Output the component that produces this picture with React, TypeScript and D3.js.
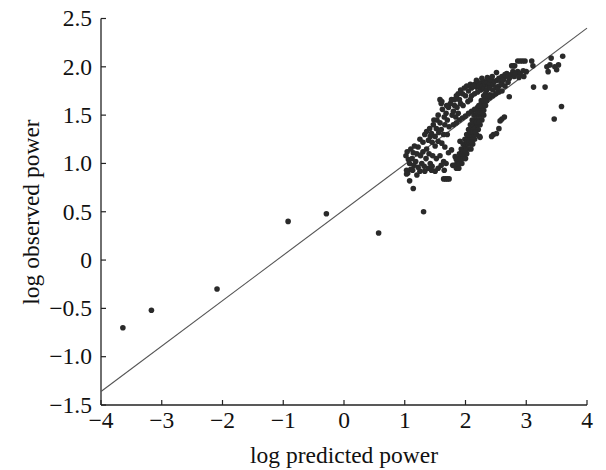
import React from "react";
import * as d3 from "d3";

const xTicks = [-4, -3, -2, -1, 0, 1, 2, 3, 4];
const yTicks = [2.5, 2.0, 1.5, 1.0, 0.5, 0, -0.5, -1.0, -1.5];

const fitLine: [number, number][] = [[-4, -1.36], [4, 2.4]];

const lowOutliers: [number, number][] = [
  [-3.64, -0.7], [-3.17, -0.52], [-2.09, -0.3], [-0.92, 0.4], [-0.29, 0.48], [0.57, 0.28],
];

const clusterLeft: [number, number][] = [
  [1.03, 0.89], [1.06, 1.04], [1.08, 0.82], [1.14, 0.74], [1.05, 0.9], [1.1, 0.94], [1.2, 0.88],
  [1.25, 0.92], [1.33, 0.92], [1.39, 0.95], [1.5, 0.92], [1.14, 1.11], [1.22, 1.17], [1.31, 0.5],
  [1.08, 1.0], [1.12, 1.05], [1.18, 1.02], [1.28, 1.0], [1.35, 1.05], [1.42, 1.0], [1.45, 0.97],
  [1.55, 0.95], [1.6, 0.98], [1.02, 1.08], [1.04, 1.12], [1.1, 1.15], [1.16, 1.18], [1.2, 1.1],
  [1.26, 1.08], [1.3, 1.12], [1.36, 1.15], [1.4, 1.1], [1.46, 1.08], [1.52, 1.05], [1.58, 1.08],
  [1.64, 1.02], [1.68, 1.0], [1.65, 0.93], [1.64, 0.84], [1.67, 0.84], [1.7, 0.84], [1.73, 0.84],
  [1.79, 0.98], [1.82, 0.98], [1.83, 1.07], [1.85, 1.04], [1.13, 0.93], [1.22, 0.96],
  [1.03, 0.93], [1.15, 0.98], [1.32, 0.97], [1.44, 0.93],
];

const upperBand: [number, number][] = [
  [1.25, 1.25], [1.3, 1.22], [1.33, 1.3], [1.39, 1.24], [1.36, 1.33], [1.42, 1.28],
  [1.44, 1.31], [1.47, 1.4], [1.5, 1.28], [1.55, 1.23], [1.55, 1.5], [1.58, 1.42], [1.52, 1.36],
  [1.48, 1.45], [1.61, 1.21], [1.6, 1.35], [1.56, 1.32], [1.45, 1.22], [1.5, 1.18],
  [1.58, 1.66], [1.6, 1.62], [1.62, 1.56], [1.65, 1.48], [1.66, 1.4], [1.68, 1.52], [1.7, 1.45],
  [1.72, 1.58], [1.75, 1.62], [1.77, 1.66], [1.8, 1.54], [1.78, 1.5], [1.73, 1.38], [1.66, 1.17],
  [1.72, 1.11], [1.77, 1.14], [1.7, 1.3], [1.64, 1.3], [1.61, 1.64], [1.53, 1.45], [1.41, 1.36],
  [1.82, 1.6], [1.85, 1.7], [1.88, 1.72], [1.9, 1.66], [1.92, 1.76], [1.95, 1.72], [1.98, 1.78],
  [2.0, 1.7], [2.02, 1.8], [1.86, 1.58], [1.91, 1.23], [1.99, 1.17], [1.94, 1.11], [1.84, 1.48],
  [1.88, 1.52], [1.96, 1.6], [1.69, 1.6], [1.82, 1.66], [1.92, 1.62],
  [1.8, 1.4], [1.85, 1.42], [1.9, 1.45], [1.95, 1.47], [2.0, 1.49], [2.05, 1.52], [2.1, 1.54],
  [2.15, 1.56], [2.2, 1.58], [2.25, 1.61], [2.3, 1.63], [2.35, 1.65], [2.4, 1.68], [2.45, 1.7],
  [2.5, 1.72], [2.55, 1.74], [2.6, 1.75],
];

const topBand: [number, number][] = [
  [2.05, 1.75], [2.08, 1.82], [2.1, 1.78], [2.12, 1.8], [2.15, 1.82], [2.18, 1.79], [2.2, 1.84],
  [2.22, 1.8], [2.25, 1.83], [2.28, 1.8], [2.3, 1.85], [2.32, 1.82], [2.35, 1.84], [2.38, 1.8],
  [2.4, 1.83], [2.42, 1.86], [2.45, 1.82], [2.48, 1.85], [2.51, 1.94], [2.52, 1.86], [2.55, 1.88],
  [2.58, 1.85], [2.6, 1.9], [2.63, 1.88], [2.65, 1.92], [2.68, 1.93], [2.7, 1.9], [2.72, 1.88],
  [2.75, 1.92], [2.78, 1.95], [2.8, 1.9], [2.83, 1.93], [2.86, 1.95], [2.9, 1.93], [2.95, 1.96],
  [3.0, 1.95], [2.79, 2.01], [2.86, 2.06], [2.9, 2.06], [2.94, 2.06], [2.98, 2.06], [3.09, 2.06],
  [3.11, 2.01], [2.81, 2.01], [2.76, 2.01], [2.81, 1.93], [2.13, 1.8], [2.4, 1.71],
  [2.1, 1.7], [2.15, 1.72], [2.2, 1.74], [2.25, 1.76], [2.3, 1.77], [2.35, 1.76], [2.4, 1.78],
  [2.45, 1.76], [2.5, 1.79], [2.55, 1.8], [2.6, 1.82], [2.65, 1.8], [2.04, 1.64], [2.08, 1.66],
  [2.18, 1.86], [2.27, 1.88], [2.36, 1.89], [2.44, 1.9], [2.33, 1.72], [2.53, 1.77], [2.62, 1.86],
  [2.7, 1.84], [2.88, 1.89], [2.96, 1.9],
];

const denseBand: [number, number][] = [
  [1.85, 0.95], [1.89, 0.95], [1.86, 1.0], [1.9, 1.0], [1.94, 1.0],
  [1.88, 1.05], [1.92, 1.05], [1.96, 1.05], [2.0, 1.05],
  [1.9, 1.1], [1.94, 1.1], [1.98, 1.1], [2.02, 1.1],
  [1.93, 1.15], [1.97, 1.15], [2.01, 1.15], [2.05, 1.15], [2.09, 1.15],
  [1.96, 1.2], [2.0, 1.2], [2.04, 1.2], [2.08, 1.2], [2.12, 1.2],
  [1.99, 1.25], [2.03, 1.25], [2.07, 1.25], [2.11, 1.25], [2.15, 1.25],
  [2.02, 1.3], [2.06, 1.3], [2.1, 1.3], [2.14, 1.3], [2.18, 1.3],
  [2.05, 1.35], [2.09, 1.35], [2.13, 1.35], [2.17, 1.35], [2.21, 1.35],
  [2.08, 1.4], [2.12, 1.4], [2.16, 1.4], [2.2, 1.4], [2.24, 1.4],
  [2.11, 1.45], [2.15, 1.45], [2.19, 1.45], [2.23, 1.45], [2.27, 1.45],
  [2.14, 1.5], [2.18, 1.5], [2.22, 1.5], [2.26, 1.5], [2.3, 1.5],
  [2.18, 1.55], [2.22, 1.55], [2.26, 1.55], [2.3, 1.55],
  [2.22, 1.6], [2.26, 1.6], [2.3, 1.6], [2.33, 1.6],
  [2.26, 1.65], [2.3, 1.65], [2.34, 1.65], [2.3, 1.7], [2.34, 1.7], [2.38, 1.7],
  [1.96, 1.125], [2.0, 1.125], [2.02, 1.225], [2.06, 1.225], [2.1, 1.225],
  [2.08, 1.325], [2.12, 1.325], [2.16, 1.325], [2.14, 1.425], [2.18, 1.425], [2.22, 1.425],
  [2.2, 1.525], [2.24, 1.525], [2.28, 1.525],
];

const rightScatter: [number, number][] = [
  [2.23, 1.28], [2.24, 1.27], [2.46, 1.3], [2.43, 1.28], [2.51, 1.31], [2.55, 1.36], [2.57, 1.44],
  [2.6, 1.46], [2.64, 1.48], [2.72, 1.69], [3.12, 1.79], [3.31, 1.79], [3.46, 1.46], [3.58, 1.59],
  [3.6, 2.11], [3.41, 2.09], [3.34, 2.0], [3.36, 1.95], [3.47, 2.0], [3.5, 1.97], [3.53, 2.02],
  [3.39, 2.02],
];

const allPoints = [
  ...lowOutliers, ...clusterLeft, ...upperBand, ...topBand, ...denseBand, ...rightScatter,
];

const W = 606;
const H = 470;
const x = d3.scaleLinear().domain([-4, 4]).range([101, 587]);
const y = d3.scaleLinear().domain([-1.5, 2.5]).range([405, 18.5]);

const fmtY = (v: number) => (v === 0 ? "0" : d3.format(".1f")(v).replace("-", "\u2212"));
const fmtX = (v: number) => String(v).replace("-", "\u2212");

export default function App() {
  const font = "'Liberation Serif', 'DejaVu Serif', serif";
  const fs = 23.5;
  const line = d3.line<[number, number]>().x((d) => x(d[0])).y((d) => y(d[1]));
  return (
    <svg
      width={W}
      height={H}
      style={{ position: "absolute", left: 0, top: 0, background: "#fff" }}
      fontFamily={font}
    >
      <rect width={W} height={H} fill="#fff" />
      <line x1={x(-4)} x2={x(-4)} y1={y(2.5)} y2={y(-1.5)} stroke="#222" strokeWidth={1.3} />
      <line x1={x(-4)} x2={x(4)} y1={y(-1.5)} y2={y(-1.5)} stroke="#222" strokeWidth={1.3} />
      {yTicks.map((t) => (
        <g key={"y" + t}>
          <line x1={x(-4)} x2={x(-4) + 5} y1={y(t)} y2={y(t)} stroke="#222" strokeWidth={1.2} />
          <text x={x(-4) - 9} y={y(t)} dy="0.33em" textAnchor="end" fontSize={fs} fill="#111">
            {fmtY(t)}
          </text>
        </g>
      ))}
      {xTicks.map((t) => (
        <g key={"x" + t}>
          <line x1={x(t)} x2={x(t)} y1={y(-1.5)} y2={y(-1.5) - 5} stroke="#222" strokeWidth={1.2} />
          <text x={x(t)} y={y(-1.5) + 23} textAnchor="middle" fontSize={fs} fill="#111">
            {fmtX(t)}
          </text>
        </g>
      ))}
      <text x={x(0)} y={463} textAnchor="middle" fontSize={fs} fill="#111">
        log predicted power
      </text>
      <text
        transform={`translate(39, 212) rotate(-90)`}
        textAnchor="middle"
        fontSize={fs}
        fill="#111"
      >
        log observed power
      </text>
      <path d={line(fitLine) || ""} fill="none" stroke="#555" strokeWidth={1.1} />
      {allPoints.map((p, i) => (
        <circle key={i} cx={x(p[0])} cy={y(p[1])} r={2.8} fill="#2a2a2a" />
      ))}
    </svg>
  );
}
